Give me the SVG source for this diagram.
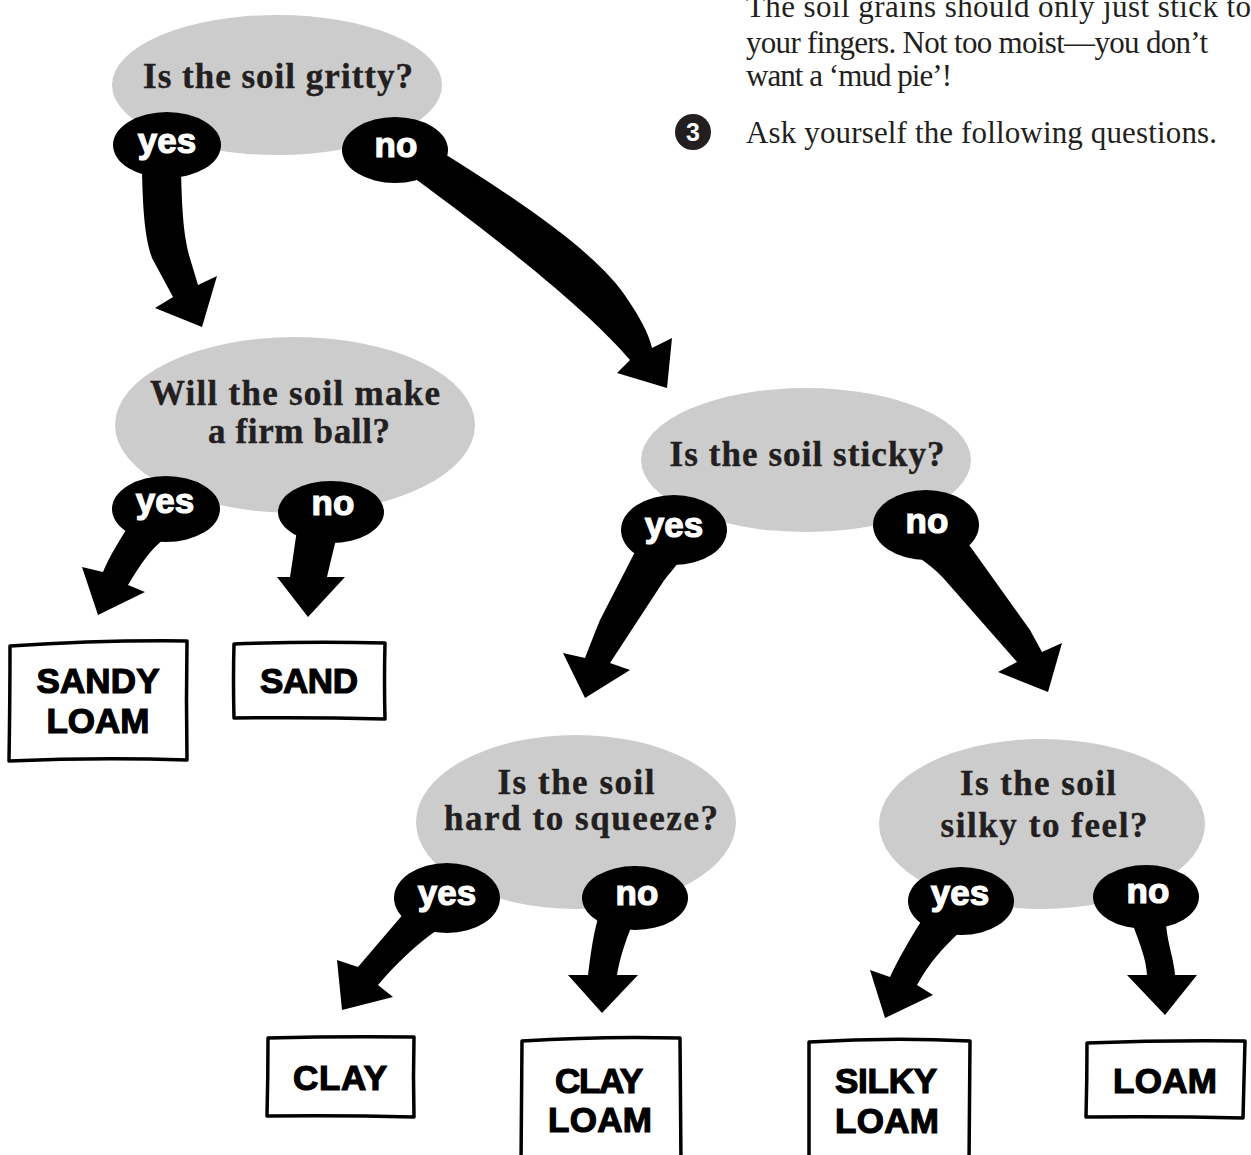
<svg xmlns="http://www.w3.org/2000/svg" width="1251" height="1155" viewBox="0 0 1251 1155">
<style>
.q{fill:#cccccc}
.qt{font-family:"Liberation Serif",serif;font-weight:bold;font-size:35px;fill:#231f20;stroke:#231f20;stroke-width:0.4;text-anchor:middle}
.body{font-family:"Liberation Serif",serif;font-size:31px;fill:#231f20}
.box{fill:#fff;stroke:#000;stroke-width:3.5;stroke-linejoin:round}
.bt{font-family:"Liberation Sans",Arial,sans-serif;font-weight:bold;font-size:35px;fill:#000;stroke:#000;stroke-width:1.2;text-anchor:middle}
.lab{fill:#000}
.lt{font-family:"Liberation Sans",Arial,sans-serif;font-weight:bold;font-size:35px;fill:#fff;stroke:#fff;stroke-width:1.2;text-anchor:middle}
.arr{fill:#000}
</style>
<rect width="1251" height="1155" fill="#fff"/>
<g id="intro">
<text class="body" x="746" y="17" textLength="505">The soil grains should only just stick to</text>
<text class="body" x="746" y="53" textLength="462">your fingers. Not too moist—you don’t</text>
<text class="body" x="746" y="86" textLength="206">want a ‘mud pie’!</text>
<circle cx="693" cy="132" r="18" fill="#231f20"/>
<text x="693" y="141" font-family="Liberation Sans,Arial,sans-serif" font-weight="bold" font-size="25" fill="#fff" text-anchor="middle">3</text>
<text class="body" x="746" y="143" textLength="471">Ask yourself the following questions.</text>
</g>
<g id="q-gritty">
<ellipse class="q" cx="277" cy="85" rx="165" ry="70"/>
<text class="qt" x="278" y="88" textLength="270">Is the soil gritty?</text>
</g>
<g id="q-firmball">
<ellipse class="q" cx="295" cy="425" rx="180" ry="88"/>
<text class="qt" x="295" y="405" textLength="290">Will the soil make</text>
<text class="qt" x="299" y="443" textLength="182">a firm ball?</text>
</g>
<g id="q-sticky">
<ellipse class="q" cx="806" cy="460" rx="165" ry="72"/>
<text class="qt" x="807" y="466" textLength="275">Is the soil sticky?</text>
</g>
<g id="q-squeeze">
<ellipse class="q" cx="576" cy="822" rx="160" ry="87"/>
<text class="qt" x="576" y="794" textLength="157">Is the soil</text>
<text class="qt" x="581" y="830" textLength="274">hard to squeeze?</text>
</g>
<g id="q-silky">
<ellipse class="q" cx="1042" cy="824" rx="163" ry="85"/>
<text class="qt" x="1038" y="795" textLength="156">Is the soil</text>
<text class="qt" x="1044" y="837" textLength="207">silky to feel?</text>
</g>
<g id="r-sandyloam">
<path class="box" d="M10,646 Q100,640 187,641 Q186,700 187,760 Q100,757 9,761 Q10,700 10,646 Z"/>
<text class="bt" x="98" y="693" textLength="123">SANDY</text>
<text class="bt" x="98" y="733" textLength="103">LOAM</text>
</g>
<g id="r-sand">
<path class="box" d="M234,644 Q310,641 385,643 Q384,680 385,719 Q310,717 234,718 Q233,680 234,644 Z"/>
<text class="bt" x="309" y="693" textLength="98">SAND</text>
</g>
<g id="r-clay">
<path class="box" d="M268,1038 Q340,1036 414,1037 Q413,1077 414,1117 Q340,1115 267,1116 Q268,1077 268,1038 Z"/>
<text class="bt" x="340" y="1090" textLength="94">CLAY</text>
</g>
<g id="r-clayloam">
<path class="box" d="M521,1165 L522,1041 Q600,1036 680,1038 L681,1165"/>
<text class="bt" x="599" y="1093" textLength="88">CLAY</text>
<text class="bt" x="600" y="1132" textLength="104">LOAM</text>
</g>
<g id="r-silkyloam">
<path class="box" d="M809,1165 L809,1042 Q890,1037 970,1041 L969,1165"/>
<text class="bt" x="886" y="1093" textLength="102">SILKY</text>
<text class="bt" x="887" y="1133" textLength="104">LOAM</text>
</g>
<g id="r-loam">
<path class="box" d="M1087,1043 Q1165,1040 1245,1041 Q1244,1080 1243,1118 Q1165,1116 1086,1117 Q1087,1080 1087,1043 Z"/>
<text class="bt" x="1165" y="1093" textLength="104">LOAM</text>
</g>
<g id="connectors">
<path class="arr" d="M142,170 C143,220 146,240 152,258 L173,297 L155,308 L202,327 L217,276 L198,285 L189,255 C184,235 182,215 181,170 Z"/>
<path class="arr" d="M430,145 C520,200 600,255 628,300 C640,318 648,332 652,348 L672,338 L667,388 L617,373 L630,360 C600,325 540,270 410,175 Z"/>
<path class="arr" d="M132,520 C120,540 110,555 103,572 L82,567 L98,615 L145,592 L128,585 C140,565 150,550 165,538 Z"/>
<path class="arr" d="M297,530 C294,550 292,565 290,577 L277,577 L308,617 L345,577 L327,577 C330,565 333,550 338,533 Z"/>
<path class="arr" d="M637,548 L600,620 C595,632 590,645 585,658 L563,653 L585,698 L630,670 L610,663 L663,582 C668,575 673,570 680,560 Z"/>
<path class="arr" d="M915,555 C930,565 938,572 945,580 L1017,662 L998,672 L1048,692 L1062,643 L1042,652 C1038,645 1034,637 1030,630 L967,542 Z"/>
<path class="arr" d="M405,912 L358,967 L337,960 L342,1010 L393,997 L378,985 C395,965 415,945 440,928 Z"/>
<path class="arr" d="M598,918 C592,940 590,960 588,975 L568,975 L602,1013 L638,975 L617,975 C620,958 624,945 632,925 Z"/>
<path class="arr" d="M922,920 C908,942 898,960 890,977 L870,970 L885,1018 L933,995 L917,985 C928,965 942,948 962,930 Z"/>
<path class="arr" d="M1133,925 C1140,945 1146,958 1147,975 L1127,975 L1165,1015 L1197,975 L1175,975 C1174,960 1168,945 1166,925 Z"/>
<ellipse class="lab" cx="167" cy="145" rx="54" ry="33"/>
<text class="lt" x="167" y="153">yes</text>
<ellipse class="lab" cx="395" cy="150" rx="53" ry="33"/>
<text class="lt" x="396" y="157">no</text>
<ellipse class="lab" cx="166" cy="509" rx="54" ry="33"/>
<text class="lt" x="165" y="513">yes</text>
<ellipse class="lab" cx="331" cy="512" rx="53" ry="31"/>
<text class="lt" x="333" y="515">no</text>
<ellipse class="lab" cx="674" cy="530" rx="53" ry="35"/>
<text class="lt" x="674" y="537">yes</text>
<ellipse class="lab" cx="926" cy="525" rx="53" ry="35"/>
<text class="lt" x="927" y="533">no</text>
<ellipse class="lab" cx="447" cy="898" rx="53" ry="35"/>
<text class="lt" x="447" y="905">yes</text>
<ellipse class="lab" cx="635" cy="898" rx="53" ry="32"/>
<text class="lt" x="637" y="905">no</text>
<ellipse class="lab" cx="961" cy="901" rx="53" ry="34"/>
<text class="lt" x="960" y="905">yes</text>
<ellipse class="lab" cx="1146" cy="897" rx="53" ry="32"/>
<text class="lt" x="1148" y="903">no</text>
</g>
</svg>
